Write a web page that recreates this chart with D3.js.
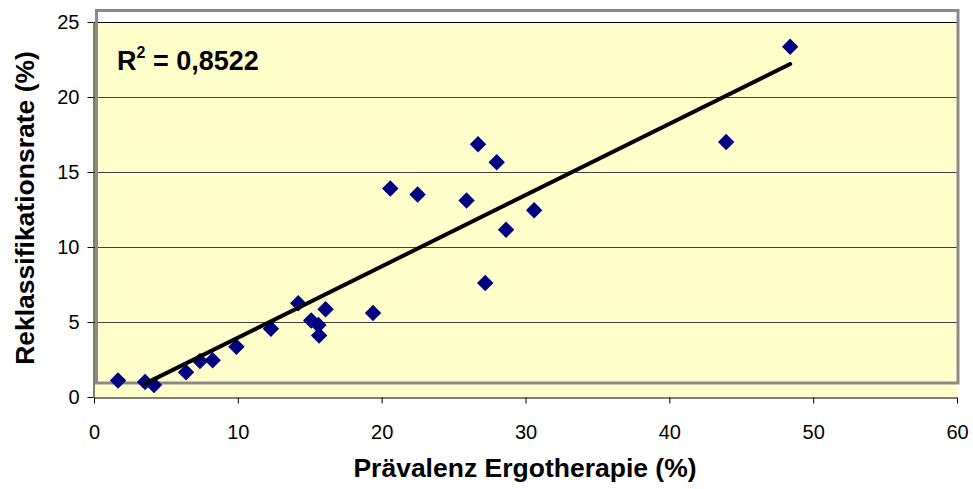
<!DOCTYPE html>
<html><head><meta charset="utf-8">
<script src="https://cdn.jsdelivr.net/npm/d3@7"></script>
<style>body{margin:0;background:#fff}svg{display:block}text{font-family:"Liberation Sans",Arial,sans-serif}</style>
</head><body>
<svg id="c" width="973" height="489"></svg>
<script>
const xValues = [1.67,3.55,4.17,6.4,7.37,8.25,9.9,12.3,14.2,15.1,15.6,15.65,16.1,19.4,20.6,22.5,25.9,26.7,27.2,28.0,28.65,30.6,43.95,48.4];
const yValues = [1.1,1.0,0.8,1.65,2.4,2.45,3.35,4.55,6.25,5.1,4.8,4.1,5.85,5.6,13.9,13.5,13.1,16.85,7.6,15.65,11.15,12.45,17.0,23.35];
const trendX = [3.55, 48.4];
const trendY = [0.89, 22.2];
const xTicks = [0,10,20,30,40,50,60];
const yTicks = [0,5,10,15,20,25];
const xTitle = "Prävalenz Ergotherapie (%)";
const yTitle = "Reklassifikationsrate (%)";

const svg = d3.select("#c");
const L=94,R=957,T=22,B=397;
const x = d3.scaleLinear().domain([0,60]).range([L,R]);
const y = d3.scaleLinear().domain([0,25]).range([B,T]);

svg.append("rect").attr("x",L).attr("y",T).attr("width",R-L).attr("height",B-T).attr("fill","#ffffcc");
svg.append("g").selectAll("line").data(yTicks.filter(d=>d>0)).join("line")
  .attr("x1",L).attr("x2",R).attr("y1",d=>y(d)+0.5).attr("y2",d=>y(d)+0.5)
  .attr("stroke",d=>d===25?"#000":"#404040").attr("stroke-width",1);
// gray frame
svg.append("rect").attr("x",96.5).attr("y",10.5).attr("width",861.5).attr("height",372.5)
  .attr("fill","none").attr("stroke","#8a8a8a").attr("stroke-width",3);

const xa = svg.append("g").attr("transform",`translate(0,${B+0.5})`)
  .call(d3.axisBottom(x).tickValues(xTicks).tickSize(6).tickSizeOuter(0).tickPadding(21));
const ya = svg.append("g").attr("transform",`translate(${L-0.5},0)`)
  .call(d3.axisLeft(y).tickValues(yTicks).tickSize(6).tickSizeOuter(0).tickPadding(8));
[xa,ya].forEach(a=>{a.selectAll("text").attr("font-size",20).attr("fill","#000").style("font-family","Liberation Sans, Arial");
  a.selectAll("line,path").attr("stroke","#000");});

svg.append("g").selectAll("path").data(xValues.map((v,i)=>[v,yValues[i]])).join("path")
  .attr("d",d3.symbol(d3.symbolSquare,135)())
  .attr("transform",d=>`translate(${x(d[0])},${y(d[1])}) rotate(45)`)
  .attr("fill","#000080");

svg.append("line").attr("x1",x(trendX[0])).attr("y1",y(trendY[0])).attr("x2",x(trendX[1])).attr("y2",y(trendY[1]))
  .attr("stroke","#000").attr("stroke-width",4).attr("stroke-linecap","round");

const r2 = svg.append("text").attr("x",117).attr("y",70).attr("font-size",27).attr("font-weight","bold");
r2.append("tspan").text("R");
r2.append("tspan").attr("font-size",16).attr("dy",-12).text("2");
r2.append("tspan").attr("dy",12).text(" = 0,8522");

svg.append("text").attr("x",525).attr("y",477).attr("text-anchor","middle").attr("font-size",26.5).attr("font-weight","bold").text(xTitle);
svg.append("text").attr("transform","translate(34,208) rotate(-90)").attr("text-anchor","middle").attr("font-size",26.5).attr("font-weight","bold").text(yTitle);
</script></body></html>
